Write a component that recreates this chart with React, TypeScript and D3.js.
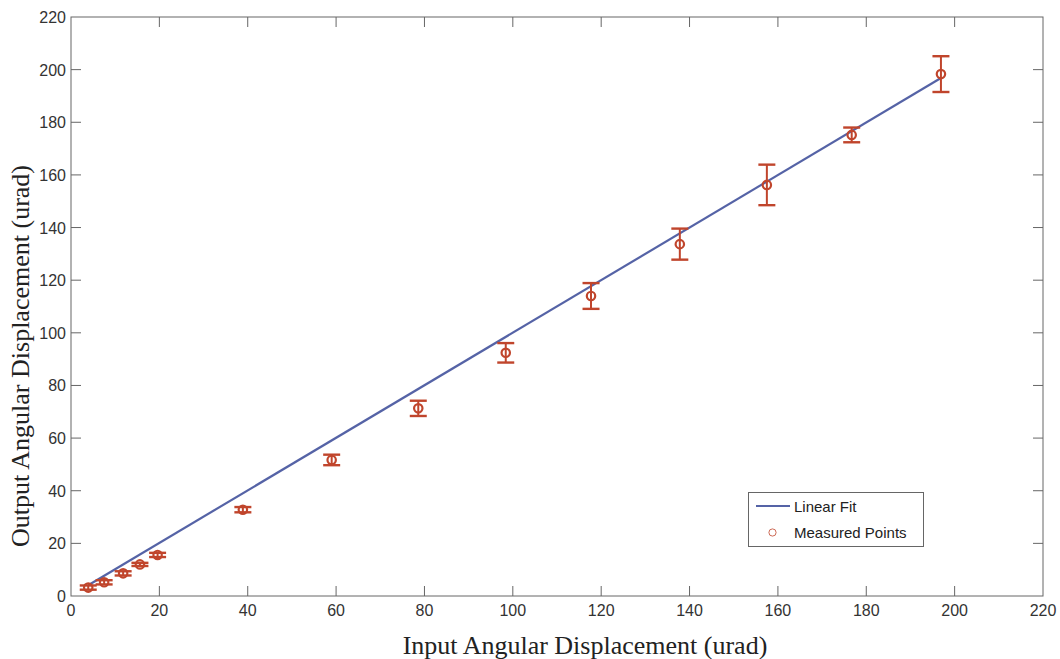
import React from "react";
import * as d3 from "d3";

const inputX = [3.9, 7.5, 11.8, 15.6, 19.6, 38.9, 59.0, 78.6, 98.4, 117.7, 137.8, 157.5, 176.7, 196.9];
const outputY = [3.2, 5.2, 8.6, 12.0, 15.6, 32.8, 51.7, 71.3, 92.4, 114.0, 133.7, 156.2, 175.2, 198.3];
const errorY = [0.8, 0.8, 0.8, 0.6, 0.8, 1.0, 2.0, 2.9, 3.7, 4.9, 5.9, 7.7, 2.8, 6.8];
const fitX = [3.9, 196.9];
const fitY = [4.1, 196.8];
const xTicks = [0, 20, 40, 60, 80, 100, 120, 140, 160, 180, 200, 220];
const yTicks = [0, 20, 40, 60, 80, 100, 120, 140, 160, 180, 200, 220];

const W = 1060, H = 659;
const L = 71, R = 1043, T = 17, B = 596;
const RED = "#c0452c";
const BLUE = "#5563a6";
const AX = "#666";

export default function App() {
  const x = d3.scaleLinear().domain([0, 220]).range([L, R]);
  const y = d3.scaleLinear().domain([0, 220]).range([B, T]);
  const line = d3.line<number>().x((_, i) => x(fitX[i])).y((_, i) => y(fitY[i]));
  const tick = 10;
  const cap = 8.5;
  return (
    <svg width={W} height={H} style={{ position: "absolute", left: 0, top: 0, background: "#fff" }}>
      <rect x={L} y={T} width={R - L} height={B - T} fill="none" stroke={AX} strokeWidth={1} />
      {xTicks.map((t) => (
        <g key={"x" + t}>
          {t > 0 && t < 220 && (
            <>
              <line x1={x(t)} x2={x(t)} y1={B} y2={B - tick} stroke={AX} />
              <line x1={x(t)} x2={x(t)} y1={T} y2={T + tick} stroke={AX} />
            </>
          )}
          <text x={x(t)} y={616} textAnchor="middle" fontFamily="Liberation Sans, Arial, sans-serif" fontSize={16} fill="#333">
            {t}
          </text>
        </g>
      ))}
      {yTicks.map((t) => (
        <g key={"y" + t}>
          {t > 0 && t < 220 && (
            <>
              <line x1={L} x2={L + tick} y1={y(t)} y2={y(t)} stroke={AX} />
              <line x1={R} x2={R - tick} y1={y(t)} y2={y(t)} stroke={AX} />
            </>
          )}
          <text x={66} y={y(t) + 6} textAnchor="end" fontFamily="Liberation Sans, Arial, sans-serif" fontSize={16} fill="#333">
            {t}
          </text>
        </g>
      ))}
      <path d={line([0, 1]) || ""} fill="none" stroke={BLUE} strokeWidth={2.2} />
      {inputX.map((v, i) => {
        const cx = x(v), cy = y(outputY[i]);
        const y1 = y(outputY[i] + errorY[i]), y2 = y(outputY[i] - errorY[i]);
        return (
          <g key={"p" + i} stroke={RED} fill="none">
            <line x1={cx} x2={cx} y1={y1} y2={y2} strokeWidth={2} />
            <line x1={cx - cap} x2={cx + cap} y1={y1} y2={y1} strokeWidth={2.4} />
            <line x1={cx - cap} x2={cx + cap} y1={y2} y2={y2} strokeWidth={2.4} />
            <circle cx={cx} cy={cy} r={4.2} strokeWidth={2.2} />
          </g>
        );
      })}
      <g>
        <rect x={748.5} y={492.5} width={175} height={54} fill="#fff" stroke={AX} strokeWidth={1} />
        <line x1={756} x2={790} y1={506} y2={506} stroke={BLUE} strokeWidth={2} />
        <text x={794} y={512} fontFamily="Liberation Sans, Arial, sans-serif" fontSize={15} fill="#222">Linear Fit</text>
        <circle cx={772.5} cy={532.5} r={3.6} fill="none" stroke={RED} strokeWidth={0.8} />
        <text x={794} y={538} fontFamily="Liberation Sans, Arial, sans-serif" fontSize={15} fill="#222">Measured Points</text>
      </g>
      <text x={585} y={654} textAnchor="middle" fontFamily="Liberation Serif, Times New Roman, serif" fontSize={26} fill="#222">
        Input Angular Displacement (urad)
      </text>
      <text transform={`translate(29, 356) rotate(-90)`} textAnchor="middle" fontFamily="Liberation Serif, Times New Roman, serif" fontSize={26} fill="#222">
        Output Angular Displacement (urad)
      </text>
    </svg>
  );
}
